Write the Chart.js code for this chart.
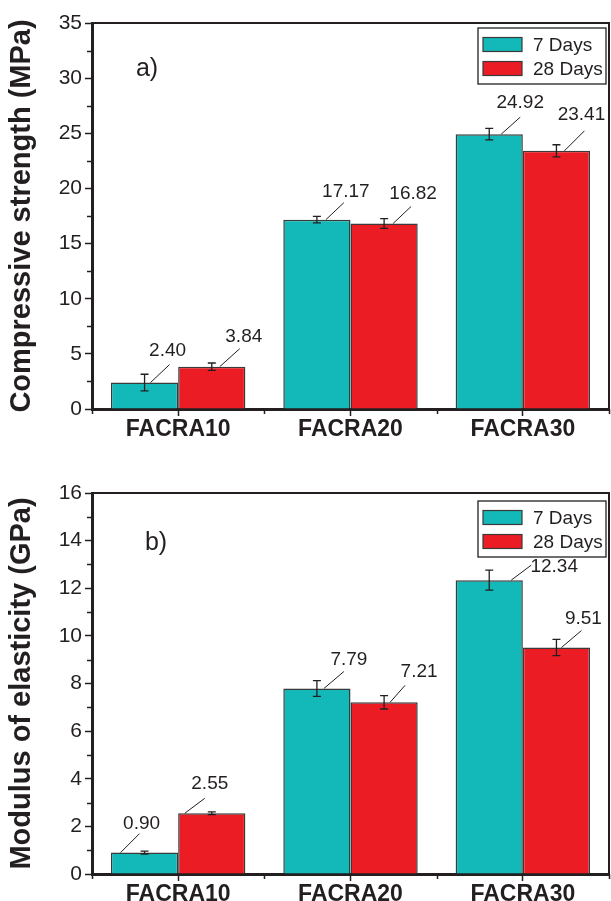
<!DOCTYPE html>
<html>
<head>
<meta charset="utf-8">
<script src="https://cdn.jsdelivr.net/npm/chart.js@4.4.0/dist/chart.umd.min.js"></script>
<style>
    html, body { margin: 0; padding: 0; background: #fff; }
    #wrap { position: relative; width: 611px; height: 901px; }
    .panel { position: absolute; left: 0; width: 611px; }
</style>
</head>
<body>
<div id="wrap">
    <div class="panel" style="top:0;height:450px"><canvas id="graphCanvas1"></canvas></div>
    <div class="panel" style="top:450px;height:451px"><canvas id="graphCanvas2"></canvas></div>
</div>
<script>
// data
var groups = ['FACRA10', 'FACRA20', 'FACRA30'];
var seriesNames = ['7 Days', '28 Days'];

var strength7 = [2.40, 17.17, 24.92];
var strength28 = [3.84, 16.82, 23.41];
var strengthErr7 = [0.75, 0.30, 0.52];
var strengthErr28 = [0.33, 0.45, 0.55];

var modulus7 = [0.90, 7.79, 12.34];
var modulus28 = [2.55, 7.21, 9.51];
var modulusErr7 = [0.06, 0.33, 0.42];
var modulusErr28 = [0.06, 0.28, 0.34];

var ink = '#231f20';
var teal = '#12b9b8';
var red = '#ec1c24';
var edge = '#3a3a3a';
var fontName = "'Liberation Sans', Arial, sans-serif";

Chart.defaults.font.family = fontName;
Chart.defaults.color = ink;

// error bars, value labels with leader lines, legend box, frame, minor ticks
var extras = {
    id: 'extras',
    afterDatasetsDraw: function(chart, args, opts) {
        var ctx = chart.ctx;
        var area = chart.chartArea;
        var xs = chart.scales.x;
        var ys = chart.scales.y;
        ctx.save();

        // top + right frame
        ctx.strokeStyle = ink;
        ctx.lineWidth = 2;
        ctx.beginPath();
        ctx.moveTo(area.left, area.top);
        ctx.lineTo(area.right, area.top);
        ctx.lineTo(area.right, area.bottom);
        ctx.stroke();

        // minor ticks
        ctx.lineWidth = 1.5;
        ctx.beginPath();
        for (var v = opts.minorStep; v < ys.max; v += opts.minorStep * 2) {
            var py = Math.round(ys.getPixelForValue(v)) + 0.5;
            ctx.moveTo(area.left, py);
            ctx.lineTo(area.left - 5, py);
        }
        var step = xs.getPixelForValue(1) - xs.getPixelForValue(0);
        for (var k = 0; k <= groups.length; k++) {
            var px = Math.round(xs.getPixelForValue(0) - step / 2 + k * step) + 0.5;
            ctx.moveTo(px, area.bottom);
            ctx.lineTo(px, area.bottom + 5);
        }
        ctx.stroke();

        // error bars and value labels
        chart.data.datasets.forEach(function(ds, di) {
            var meta = chart.getDatasetMeta(di);
            meta.data.forEach(function(bar, i) {
                var val = ds.data[i];
                var err = ds.errors[i];
                var cx = bar.x;
                var top = ys.getPixelForValue(val);
                var hi = ys.getPixelForValue(val + err);
                var lo = ys.getPixelForValue(val - err);

                ctx.strokeStyle = ink;
                ctx.lineWidth = 1.3;
                ctx.beginPath();
                ctx.moveTo(cx, hi);
                ctx.lineTo(cx, lo);
                ctx.moveTo(cx - 4, hi);
                ctx.lineTo(cx + 4, hi);
                ctx.moveTo(cx - 4, lo);
                ctx.lineTo(cx + 4, lo);
                ctx.stroke();

                var o = opts.offsets[di][i];
                ctx.lineWidth = 1;
                ctx.beginPath();
                ctx.moveTo(cx + o[0], top);
                ctx.lineTo(cx + o[1], top - o[2]);
                ctx.stroke();

                ctx.fillStyle = ink;
                ctx.font = '19px ' + fontName;
                ctx.textAlign = 'center';
                ctx.textBaseline = 'middle';
                ctx.fillText(val.toFixed(2), cx + o[3], top - o[4]);
            });
        });

        // legend box
        var bx = area.right - 131;
        var by = area.top + opts.legendTop;
        ctx.strokeStyle = ink;
        ctx.lineWidth = 1.3;
        ctx.strokeRect(bx, by, 128, 56);
        chart.data.datasets.forEach(function(ds, di) {
            var ry = by + 16.5 + di * 24;
            ctx.fillStyle = ds.backgroundColor;
            ctx.fillRect(bx + 5, ry - 7, 39, 14);
            ctx.strokeStyle = edge;
            ctx.lineWidth = 1.2;
            ctx.strokeRect(bx + 5, ry - 7, 39, 14);
            ctx.fillStyle = ink;
            ctx.font = '19px ' + fontName;
            ctx.textAlign = 'left';
            ctx.textBaseline = 'middle';
            ctx.fillText(ds.label, bx + 55, ry + 1);
        });

        // panel letter
        ctx.font = '25px ' + fontName;
        ctx.textAlign = 'center';
        ctx.textBaseline = 'middle';
        ctx.fillText(opts.letter[0], area.left + opts.letter[1], area.top + opts.letter[2]);

        ctx.restore();
    }
};

function barOptions(yMax, yStep, yTitle, padTop, xHeight, extraOpts) {
    return {
        responsive: true,
        maintainAspectRatio: false,
        animation: false,
        layout: { padding: { top: padTop, right: 2, left: 0, bottom: 0 } },
        plugins: {
            legend: { display: false },
            tooltip: { enabled: false },
            extras: extraOpts
        },
        scales: {
            x: {
                offset: true,
                grid: { display: true, drawOnChartArea: false, offset: false, tickLength: 7, tickWidth: 1.5, tickColor: ink },
                border: { color: ink, width: 3 },
                ticks: { font: { size: 23, weight: 'bold' }, color: ink, padding: 0, maxRotation: 0 },
                afterFit: function(scale) { scale.height = xHeight; }
            },
            y: {
                min: 0,
                max: yMax,
                ticks: { stepSize: yStep, font: { size: 21 }, color: ink, padding: 3 },
                grid: { drawOnChartArea: false, tickLength: 7, tickWidth: 1.5, tickColor: ink },
                border: { color: ink, width: 3 },
                title: {
                    display: true,
                    text: yTitle,
                    font: { size: 29, weight: 'bold' },
                    color: ink,
                    padding: { top: 5, bottom: 0 }
                },
                afterFit: function(scale) { scale.width = 92; }
            }
        }
    };
}

var strengthChart = new Chart(document.getElementById('graphCanvas1'), {
    type: 'bar',
    data: {
        labels: groups,
        datasets: [{
            label: seriesNames[0],
            data: strength7,
            errors: strengthErr7,
            backgroundColor: teal,
            borderColor: edge,
            borderWidth: 1.5,
            barPercentage: 1,
            categoryPercentage: 0.78
        }, {
            label: seriesNames[1],
            data: strength28,
            errors: strengthErr28,
            backgroundColor: red,
            borderColor: edge,
            borderWidth: 1.5,
            barPercentage: 1,
            categoryPercentage: 0.78
        }]
    },
    plugins: [extras],
    options: barOptions(35, 5, 'Compressive strength (MPa)', 23, 41, {
        minorStep: 2.5,
        legendTop: 5,
        letter: ['a)', 55, 46],
        offsets: [
            [[6, 25, 18, 23, 32], [9, 27, 17, 29, 28], [12, 31, 17, 31, 31]],
            [[8, 28, 18, 32, 30], [9, 27, 17, 29, 30], [8, 28, 20, 25, 36]]
        ]
    })
});

var modulusChart = new Chart(document.getElementById('graphCanvas2'), {
    type: 'bar',
    data: {
        labels: groups,
        datasets: [{
            label: seriesNames[0],
            data: modulus7,
            errors: modulusErr7,
            backgroundColor: teal,
            borderColor: edge,
            borderWidth: 1.5,
            barPercentage: 1,
            categoryPercentage: 0.78
        }, {
            label: seriesNames[1],
            data: modulus28,
            errors: modulusErr28,
            backgroundColor: red,
            borderColor: edge,
            borderWidth: 1.5,
            barPercentage: 1,
            categoryPercentage: 0.78
        }]
    },
    plugins: [extras],
    options: barOptions(16, 2, 'Modulus of elasticity (GPa)', 43, 27, {
        minorStep: 1,
        legendTop: 8,
        letter: ['b)', 64, 50],
        offsets: [
            [[-24, -5, 19, -3, 29], [7, 27, 17, 32, 29], [22, 42, 15, 65, 13]],
            [[-27, -7, 15, -2, 30], [6, 21, 17, 35, 31], [5, 25, 17, 27, 29]]
        ]
    })
});
</script>
</body>
</html>
